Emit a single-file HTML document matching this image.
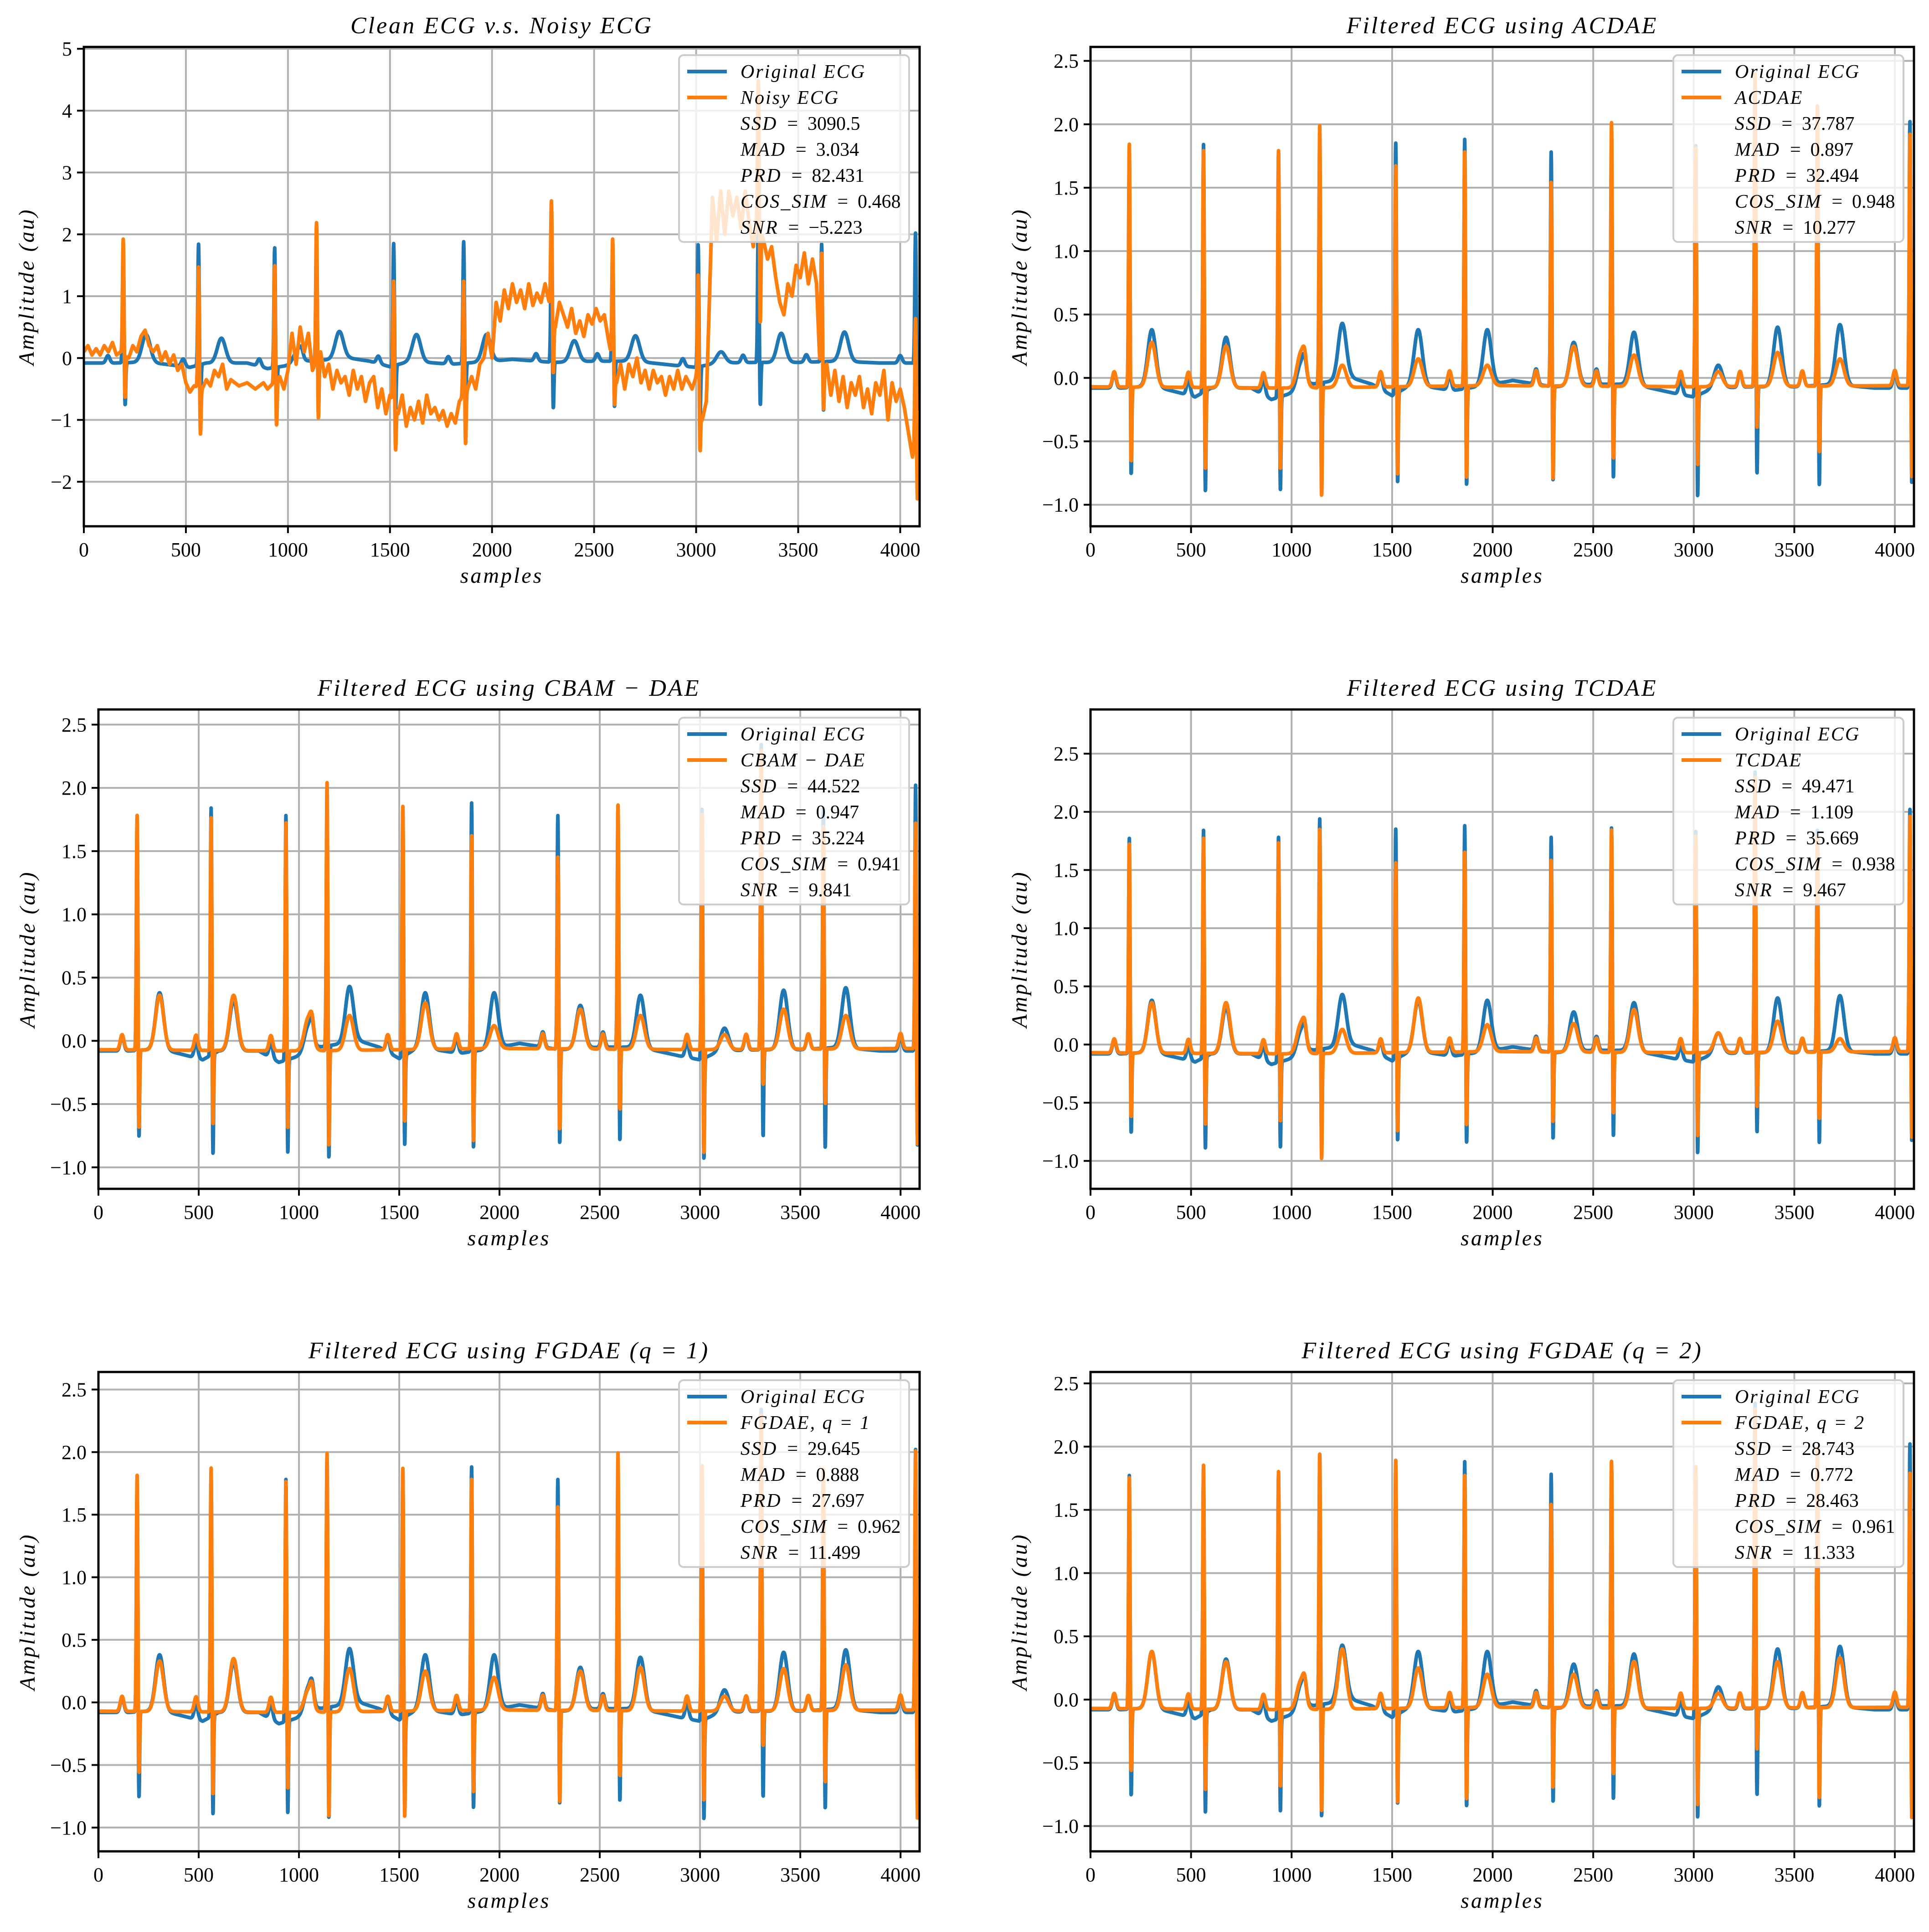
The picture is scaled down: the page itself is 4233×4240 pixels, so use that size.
<!DOCTYPE html>
<html><head><meta charset="utf-8">
<style>
html,body{margin:0;padding:0;background:#fff;}
svg{display:block;}
text{font-family:"Liberation Serif","DejaVu Serif",serif;fill:#000;}
</style></head>
<body>
<svg id="fig" width="4233" height="4240" viewBox="0 0 4233 4240" xmlns="http://www.w3.org/2000/svg"></svg>
<script>
// ---------- data ----------
const beatPos = [193,562,935,1140,1518,1861,2291,2591,3010,3305,3615,4075];
const cleanR = [1.78,1.85,1.79,1.95,1.86,1.89,1.79,1.87,1.84,2.35,1.85,2.03];
const cleanS = [-0.82,-0.96,-0.95,-0.99,-0.89,-0.91,-0.87,-0.85,-1.0,-0.83,-0.91,-0.9];
const cleanT = [0.38,0.32,0.12,0.43,0.38,0.38,0.28,0.36,0.1,0.4,0.42,0];
const cleanBaseX = [0,150,250,350,450,520,600,800,900,1000,1100,1300,1400,1500,1600,1800,2000,2100,2300,2500,2700,2900,3000,3100,3300,3500,3700,3900,4095];
const cleanBaseY = [-0.08,-0.08,-0.07,-0.08,-0.12,-0.15,-0.08,-0.08,-0.17,-0.12,-0.05,0.0,-0.05,-0.14,-0.05,-0.1,-0.05,-0.02,-0.07,-0.05,-0.05,-0.12,-0.15,-0.08,-0.07,-0.07,-0.05,-0.08,-0.08];

const noisyR = [1.93,1.48,1.5,2.2,1.25,1.25,2.55,1.93,1.35,4.5,1.7,0.65];
const noisyS = [-0.7,-1.3,-1.15,-1.05,-1.55,-1.45,-0.3,-0.8,-1.55,0.5,-0.9,-2.35];
const noisyBaseX = [0,20,40,60,80,100,120,140,160,180,220,240,260,280,300,320,340,360,380,400,420,440,460,480,500,520,540,580,600,620,640,660,680,700,720,760,800,840,880,900,960,980,1000,1020,1040,1060,1080,1100,1120,1160,1180,1200,1220,1240,1260,1280,1300,1320,1340,1360,1380,1400,1420,1440,1460,1480,1500,1540,1560,1580,1600,1620,1640,1660,1680,1700,1720,1740,1760,1780,1800,1820,1840,1880,1900,1920,1940,1960,1980,2000,2020,2040,2060,2080,2100,2120,2140,2160,2180,2200,2220,2240,2260,2280,2310,2330,2350,2370,2390,2410,2430,2450,2470,2490,2510,2530,2550,2570,2610,2630,2650,2670,2690,2710,2730,2750,2770,2790,2810,2830,2850,2870,2890,2910,2930,2950,2980,3000,3030,3050,3070,3080,3100,3120,3140,3160,3180,3200,3220,3240,3260,3280,3300,3330,3350,3370,3390,3410,3430,3450,3470,3490,3510,3530,3550,3570,3590,3610,3640,3660,3680,3700,3720,3740,3760,3780,3800,3820,3840,3860,3880,3900,3920,3940,3960,3980,4000,4020,4040,4060,4080,4095];
const noisyBaseY = [0.1,0.2,0.05,0.15,0.05,0.2,0.1,0.25,0.05,0.1,0.0,0.2,0.1,0.35,0.45,0.2,0.1,0.2,-0.05,0.1,-0.1,0.05,-0.2,-0.1,-0.4,-0.55,-0.45,-0.5,-0.35,-0.45,-0.2,-0.3,-0.1,-0.5,-0.35,-0.45,-0.4,-0.5,-0.4,-0.5,-0.3,-0.5,-0.2,0.4,-0.1,0.5,0.1,0.4,-0.2,0.1,-0.3,-0.1,-0.5,-0.2,-0.4,-0.3,-0.6,-0.2,-0.5,-0.3,-0.7,-0.4,-0.3,-0.8,-0.5,-0.9,-0.6,-0.9,-0.6,-1.1,-0.8,-1.0,-0.7,-1.05,-0.6,-0.9,-0.8,-1.0,-0.85,-1.1,-0.9,-1.05,-0.7,-0.5,-0.3,-0.5,-0.1,0.0,0.4,0.0,0.9,0.6,1.1,0.8,1.2,0.9,1.1,0.8,1.2,0.85,1.05,0.9,1.2,0.9,0.5,0.9,0.7,0.5,0.8,0.4,0.6,0.35,0.7,0.55,0.8,0.6,0.7,0.3,-0.4,-0.1,-0.5,-0.1,-0.3,0.0,-0.4,-0.2,-0.5,-0.2,-0.4,-0.3,-0.6,-0.3,-0.5,-0.2,-0.5,-0.3,-0.5,-0.3,-1.0,-0.7,1.5,2.6,1.9,2.7,2.0,2.7,2.3,2.6,2.1,2.7,2.2,1.8,2.3,1.9,1.6,1.8,1.3,0.9,0.7,1.2,1.0,1.5,1.3,1.7,1.2,1.6,1.2,-0.4,-0.1,-0.6,-0.2,-0.7,-0.3,-0.8,-0.4,-0.6,-0.3,-0.8,-0.5,-0.9,-0.4,-0.6,-0.2,-1.0,-0.4,-0.7,-0.5,-0.8,-1.2,-1.6,-1.3,-1.3];

const acdaeR = [1.85,1.8,1.8,2.0,1.68,1.79,1.55,2.02,1.82,2.4,2.15,1.93];
const acdaeS = [-0.72,-0.78,-0.78,-1.0,-0.82,-0.85,-0.85,-0.7,-0.75,-0.45,-0.65,-0.85];
const acdaeT = [0.28,0.25,0.2,0.1,0.15,0.1,0.25,0.18,0.05,0.2,0.15,0];
const cbamR = [1.79,1.77,1.73,2.05,1.86,1.63,1.46,1.87,1.8,2.3,1.7,1.73];
const cbamS = [-0.75,-0.72,-0.75,-0.9,-0.7,-0.85,-0.75,-0.6,-0.95,-0.4,-0.55,-0.88];
const cbamT = [0.36,0.36,0.18,0.2,0.3,0.12,0.25,0.2,0.05,0.25,0.2,0];
const tcdaeR = [1.73,1.78,1.74,1.86,1.57,1.66,1.59,1.85,1.8,2.3,1.8,1.97];
const tcdaeS = [-0.68,-0.75,-0.72,-1.05,-0.8,-0.75,-0.72,-0.65,-0.85,-0.6,-0.7,-0.87];
const tcdaeT = [0.36,0.36,0.18,0.13,0.4,0.17,0.18,0.3,0.1,0.2,0.05,0];
const fg1R = [1.82,1.88,1.77,2.0,1.88,1.79,1.57,2.0,1.9,2.3,1.87,2.02];
const fg1S = [-0.62,-0.8,-0.75,-0.98,-0.98,-0.78,-0.85,-0.65,-0.85,-0.4,-0.7,-1.0];
const fg1T = [0.33,0.35,0.1,0.27,0.25,0.2,0.25,0.28,0.05,0.27,0.3,0];
const fg2R = [1.76,1.86,1.81,1.95,1.9,1.78,1.55,1.89,1.85,2.3,2.0,1.8];
const fg2S = [-0.62,-0.78,-0.75,-0.95,-0.88,-0.85,-0.75,-0.65,-0.9,-0.45,-0.85,-1.0];
const fg2T = [0.38,0.3,0.15,0.4,0.25,0.2,0.2,0.3,0.05,0.3,0.33,0];
const filtBaseX = [0,1000,2000,3000,4095];
const filtBaseY = [-0.07,-0.08,-0.06,-0.07,-0.06];

const xTicks = [0,500,1000,1500,2000,2500,3000,3500,4000];
const yTicksBig = [-2,-1,0,1,2,3,4,5];
const yTicksSmall = [-1.0,-0.5,0.0,0.5,1.0,1.5,2.0,2.5];

const metricNames = ["SSD","MAD","PRD","COS_SIM","SNR"];
const m1 = ["3090.5","3.034","82.431","0.468","\u22125.223"];
const m2 = ["37.787","0.897","32.494","0.948","10.277"];
const m3 = ["44.522","0.947","35.224","0.941","9.841"];
const m4 = ["49.471","1.109","35.669","0.938","9.467"];
const m5 = ["29.645","0.888","27.697","0.962","11.499"];
const m6 = ["28.743","0.772","28.463","0.961","11.333"];

// ---------- helpers ----------
const NS = "http://www.w3.org/2000/svg";
const svg = document.getElementById('fig');
function mk(tag, attrs, parent){
  const e = document.createElementNS(NS, tag);
  for (const k in attrs) e.setAttribute(k, attrs[k]);
  (parent||svg).appendChild(e);
  return e;
}
function interp(xs, ys, x){
  if (x <= xs[0]) return ys[0];
  for (let i=1;i<xs.length;i++){
    if (x <= xs[i]){ const t=(x-xs[i-1])/(xs[i]-xs[i-1]); return ys[i-1]+t*(ys[i]-ys[i-1]); }
  }
  return ys[ys.length-1];
}
function g(d, s){ return Math.exp(-d*d/(2*s*s)); }
function synth(R, S, T, bx, by, withP){
  const out = [];
  for (let x=0;x<4096;x++){
    let y = interp(bx,by,x);
    for (let i=0;i<beatPos.length;i++){
      const p = beatPos[i];
      if (Math.abs(x-p) > 200) continue;
      const bR = interp(bx,by,p);
      y += (R[i]-bR)*g(x-p,3.5);
      y += (S[i]-interp(bx,by,p+9))*g(x-p-9,3);
      if (T && T[i] > 0) y += Math.max(0, T[i]-interp(bx,by,p+112))*g(x-p-112,20);
      if (withP) y += 0.12*g(x-p+75,9);
    }
    out.push(y);
  }
  return out;
}
function fmt(v, big){ const s = big ? String(v) : v.toFixed(1); return s.replace('-', '\u2212'); }

function panel(cfg){
  const {id,L,R,T,B,ymin,ymax,ticks,big,title,orangeLabel,orange,metrics,legendL} = cfg;
  const gp = mk('g', {});
  
  
  const xs = v => L + v/4095*(R-L);
  const ys = v => B - (v-ymin)/(ymax-ymin)*(B-T);
  const grid = mk('g', {}, gp);
  
  
  xTicks.forEach(t => {
    mk('line', {x1:xs(t),x2:xs(t),y1:T,y2:B,stroke:'#b0b0b0','stroke-width':4}, grid);
  });
  ticks.forEach(t => {
    mk('line', {x1:L,x2:R,y1:ys(t),y2:ys(t),stroke:'#b0b0b0','stroke-width':4}, grid);
  });
  const cid = 'clip-'+id;
  const cp = mk('clipPath', {id:cid}, gp);
  mk('rect', {x:L,y:T,width:R-L,height:B-T}, cp);
  const blue = synth(cleanR, cleanS, cleanT, cleanBaseX, cleanBaseY, true);
  const series = [[blue,'#1f77b4','original-ecg-line'],[orange,'#ff7f0e', id+'-output-line']];
  series.forEach(([arr,col,name]) => {
    let d = '';
    for (let i=0;i<arr.length;i++) d += (i?'L':'M') + xs(i).toFixed(1) + ' ' + ys(arr[i]).toFixed(1);
    const p = mk('path', {d:d,fill:'none',stroke:col,'stroke-width':8,'stroke-linejoin':'round','clip-path':'url(#'+cid+')'}, gp);
    
    
  });
  const fr = mk('rect', {x:L,y:T,width:R-L,height:B-T,fill:'none',stroke:'#000','stroke-width':5}, gp);
  
  
  xTicks.forEach(t => {
    mk('line', {x1:xs(t),x2:xs(t),y1:B,y2:B+15,stroke:'#000','stroke-width':4}, gp);
    const tx = mk('text', {x:xs(t),y:B+66,'text-anchor':'middle','font-size':44}, gp);
    tx.textContent = t;
    
    
  });
  ticks.forEach(t => {
    mk('line', {x1:L-15,x2:L,y1:ys(t),y2:ys(t),stroke:'#000','stroke-width':4}, gp);
    const tx = mk('text', {x:L-26,y:ys(t)+15,'text-anchor':'end','font-size':44}, gp);
    tx.textContent = fmt(t, big);
    
    
  });
  const xl = mk('text', {x:(L+R)/2,y:B+124,'text-anchor':'middle','font-size':48,'font-style':'italic','letter-spacing':4}, gp);
  xl.textContent = 'samples';
  
  
  const yl = mk('text', {x:0,y:0,'text-anchor':'middle','font-size':48,'font-style':'italic','letter-spacing':4,transform:'translate('+(L-(big?110:140))+','+((T+B)/2)+') rotate(-90)'}, gp);
  yl.textContent = 'Amplitude (au)';
  
  
  const tt = mk('text', {x:(L+R)/2,y:T-30,'text-anchor':'middle','font-size':52,'font-style':'italic','letter-spacing':4}, gp);
  tt.textContent = title;
  
  
  const lg = mk('g', {}, gp);
  
  
  const lt = T + 18;
  mk('rect', {x:legendL,y:lt,width:505,height:410,rx:10,fill:'rgba(255,255,255,0.8)',stroke:'#cccccc','stroke-width':4}, lg);
  const rows = ['Original ECG', orangeLabel].concat(metricNames);
  rows.forEach((r,i) => {
    const cy = lt + 36 + i*57;
    if (i < 2){
      const hl = mk('line', {x1:legendL+18,x2:legendL+105,y1:cy,y2:cy,stroke:i?'#ff7f0e':'#1f77b4','stroke-width':8}, lg);
      
      
    }
    const t = mk('text', {x:legendL+135,y:cy+14,'font-size':42}, lg);
    
    
    if (i < 2){
      mk('tspan', {'font-style':'italic','letter-spacing':3}, t).textContent = r;
    } else {
      mk('tspan', {'font-style':'italic','letter-spacing':3}, t).textContent = metricNames[i-2];
      mk('tspan', {}, t).textContent = '\u00a0\u00a0=\u00a0\u00a0' + metrics[i-2];
    }
  });
}

const noisy = synth(noisyR, noisyS, null, noisyBaseX, noisyBaseY, false);
const LC = [184, 2018], LC2 = [216, 2018], RC = [2393, 4200];
const rowsY = [[103,1155],[1557,2609],[3011,4063]];
panel({id:'panel-noisy',L:LC[0],R:LC[1],T:rowsY[0][0],B:rowsY[0][1],ymin:-2.72,ymax:5.03,ticks:yTicksBig,big:true,
  title:'Clean ECG v.s. Noisy ECG',orangeLabel:'Noisy ECG',orange:noisy,metrics:m1,legendL:1490});
panel({id:'panel-acdae',L:RC[0],R:RC[1],T:rowsY[0][0],B:rowsY[0][1],ymin:-1.17,ymax:2.61,ticks:yTicksSmall,big:false,
  title:'Filtered ECG using ACDAE',orangeLabel:'ACDAE',orange:synth(acdaeR,acdaeS,acdaeT,filtBaseX,filtBaseY,true),metrics:m2,legendL:3672});
panel({id:'panel-cbam',L:LC2[0],R:LC2[1],T:rowsY[1][0],B:rowsY[1][1],ymin:-1.17,ymax:2.62,ticks:yTicksSmall,big:false,
  title:'Filtered ECG using CBAM \u2212 DAE',orangeLabel:'CBAM \u2212 DAE',orange:synth(cbamR,cbamS,cbamT,filtBaseX,filtBaseY,true),metrics:m3,legendL:1490});
panel({id:'panel-tcdae',L:RC[0],R:RC[1],T:rowsY[1][0],B:rowsY[1][1],ymin:-1.24,ymax:2.88,ticks:yTicksSmall,big:false,
  title:'Filtered ECG using TCDAE',orangeLabel:'TCDAE',orange:synth(tcdaeR,tcdaeS,tcdaeT,filtBaseX,filtBaseY,true),metrics:m4,legendL:3672});
panel({id:'panel-fgdae-q1',L:LC2[0],R:LC2[1],T:rowsY[2][0],B:rowsY[2][1],ymin:-1.19,ymax:2.64,ticks:yTicksSmall,big:false,
  title:'Filtered ECG using FGDAE (q = 1)',orangeLabel:'FGDAE, q = 1',orange:synth(fg1R,fg1S,fg1T,filtBaseX,filtBaseY,true),metrics:m5,legendL:1490});
panel({id:'panel-fgdae-q2',L:RC[0],R:RC[1],T:rowsY[2][0],B:rowsY[2][1],ymin:-1.2,ymax:2.59,ticks:yTicksSmall,big:false,
  title:'Filtered ECG using FGDAE (q = 2)',orangeLabel:'FGDAE, q = 2',orange:synth(fg2R,fg2S,fg2T,filtBaseX,filtBaseY,true),metrics:m6,legendL:3672});
</script>
</body></html>
